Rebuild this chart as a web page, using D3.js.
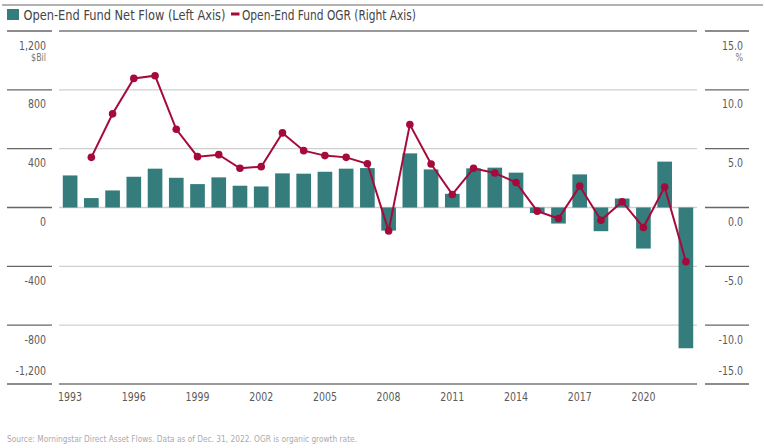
<!DOCTYPE html>
<html><head><meta charset="utf-8">
<script src="https://cdn.jsdelivr.net/npm/d3@7"></script>
<style>
body{margin:0;background:#fff;}
svg{display:block;font-family:"Liberation Sans Narrow","DejaVu Sans Condensed","Roboto Condensed",sans-serif;}
</style></head><body>
<svg id="c" width="765" height="448"></svg>
<script>
const years = d3.range(1993, 2023);
const netFlow = [218,64,116,209,264,202,159,205,148,143,232,230,243,264,268,-157,368,259,93,266,271,237,-38,-109,225,-161,61,-279,312,-957];
const ogr = [null,4.26,7.96,10.97,11.2,6.65,4.32,4.49,3.33,3.47,6.34,4.83,4.41,4.26,3.72,-1.99,7.05,3.7,1.11,3.33,2.93,2.13,-0.31,-0.94,1.82,-1.08,0.49,-1.7,1.74,-4.6];
const leftTicks = [1200,800,400,0,-400,-800,-1200];
const rightTicks = [15,10,5,0,-5,-10,-15];
const yearLabels = [1993,1996,1999,2002,2005,2008,2011,2014,2017,2020];
const legendLabels = ["Open-End Fund Net Flow (Left Axis)","Open-End Fund OGR (Right Axis)"];
const sourceText = "Source: Morningstar Direct Asset Flows. Data as of Dec. 31, 2022. OGR is organic growth rate.";

const teal = "#347d7c", red = "#a50a3b", txt = "#5a5a5a";
const loc = d3.formatLocale({decimal:".",thousands:",",grouping:[3],currency:["$",""],minus:"-"});
const fmtL = loc.format(","), fmtR = loc.format(".1f");
const SX = 0.84;
const svg = d3.select("#c");
const x = d3.scaleBand().domain(years).range([59.5, 696.5]).paddingInner(0.31).paddingOuter(0.155);
const yL = d3.scaleLinear().domain([-1200,1200]).range([384,31]);
const yR = d3.scaleLinear().domain([-15,15]).range([384,31]);

function ctext(parent, tx, ty, s, size, fill, anchor){
  return parent.append("text").attr("transform",`translate(${tx},${ty}) scale(${SX},1)`)
    .attr("text-anchor",anchor||"start").attr("font-size",size).attr("fill",fill).text(s);
}

// top rule
svg.append("line").attr("x1",2).attr("x2",763).attr("y1",5).attr("y2",5).attr("stroke","#666").attr("stroke-width",1.2);
// legend
svg.append("rect").attr("x",7).attr("y",9).attr("width",12).attr("height",11).attr("fill",teal);
svg.append("text").attr("x",23.5).attr("y",20).attr("font-size",13.2).attr("fill","#444")
  .attr("textLength",202).attr("lengthAdjust","spacingAndGlyphs").text(legendLabels[0]);
svg.append("rect").attr("x",231).attr("y",12.5).attr("width",8.5).attr("height",3).attr("fill",red);
svg.append("text").attr("x",242).attr("y",20).attr("font-size",13.2).attr("fill","#444")
  .attr("textLength",174).attr("lengthAdjust","spacingAndGlyphs").text(legendLabels[1]);

// gridlines
const g = svg.append("g");
leftTicks.forEach((t,i)=>{
  const yy = yL(t);
  const last = i===leftTicks.length-1;
  const edge = (i===0||last);
  g.append("line").attr("x1",59).attr("x2",697).attr("y1",yy).attr("y2",yy)
   .attr("stroke", edge?"#777":"#cfcfcf").attr("stroke-width", edge?1.6:1.3);
  g.append("line").attr("x1",7).attr("x2",52).attr("y1",yy).attr("y2",yy).attr("stroke","#666").attr("stroke-width",1.3);
  g.append("line").attr("x1",705).attr("x2",749).attr("y1",yy).attr("y2",yy).attr("stroke","#666").attr("stroke-width",1.3);
  ctext(g, 46, last? yy-9.5 : yy+18.5, fmtL(t), 12.5, txt, "end");
});
rightTicks.forEach((t,i)=>{
  const yy = yR(t);
  const last = i===rightTicks.length-1;
  ctext(g, 743, last? yy-9.5 : yy+18.5, fmtR(t), 12.5, txt, "end");
});
ctext(svg, 46, yL(1200)+30, "$Bil", 10.5, "#777", "end");
ctext(svg, 743, yR(15)+30, "%", 10.5, "#777", "end");

// bars
svg.append("g").selectAll("rect").data(years).join("rect")
  .attr("x",d=>x(d)).attr("width",x.bandwidth())
  .attr("y",(d,i)=>yL(Math.max(0,netFlow[i])))
  .attr("height",(d,i)=>Math.abs(yL(netFlow[i])-yL(0)))
  .attr("fill",teal);

// line
const pts = years.map((d,i)=>({year:d,v:ogr[i]})).filter(p=>p.v!==null);
const line = d3.line().x(p=>x(p.year)+x.bandwidth()/2).y(p=>yR(p.v));
svg.append("path").datum(pts).attr("d",line).attr("fill","none").attr("stroke",red).attr("stroke-width",2);
svg.append("g").selectAll("circle").data(pts).join("circle")
  .attr("cx",p=>x(p.year)+x.bandwidth()/2).attr("cy",p=>yR(p.v)).attr("r",3.8).attr("fill",red);

// x labels
const xl = svg.append("g");
yearLabels.forEach(d=>ctext(xl, x(d)+x.bandwidth()/2, 401, d, 12.5, txt, "middle"));

svg.append("text").attr("x",7).attr("y",442).attr("font-size",8.6).attr("fill","#aaa")
  .attr("textLength",350).attr("lengthAdjust","spacingAndGlyphs").text(sourceText);
</script></body></html>
